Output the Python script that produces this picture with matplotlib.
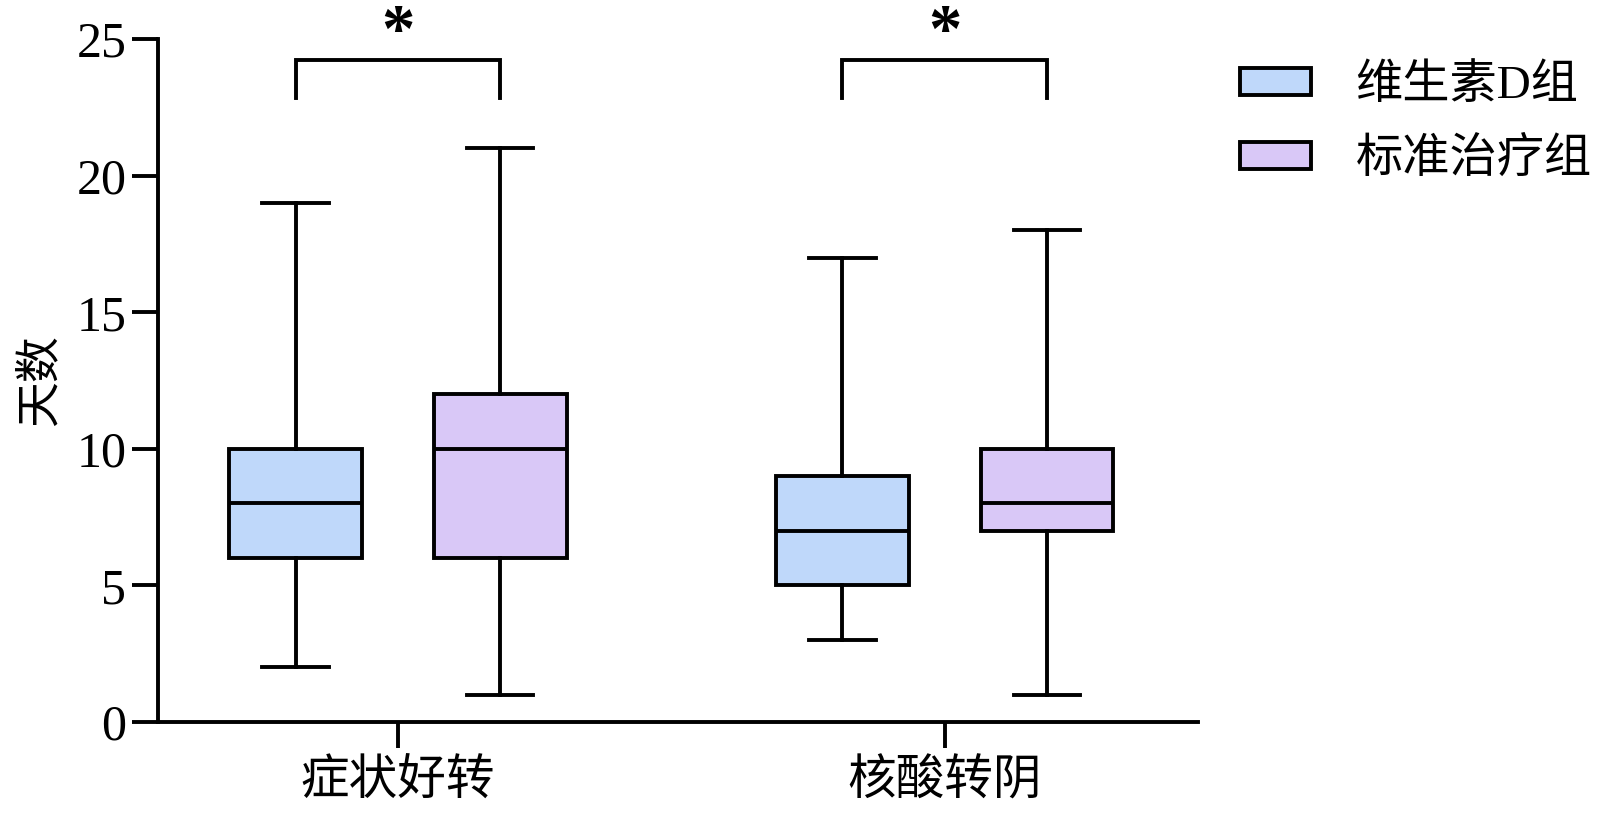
import numpy as np
import matplotlib.pyplot as plt
from matplotlib.patches import Patch

plt.rcParams['font.family'] = ['Liberation Serif', 'Noto Sans CJK SC']

categories = ["症状好转", "核酸转阴"]
groups = ["维生素D组", "标准治疗组"]
colors = ["#BFD8FA", "#D9C8F7"]

# whislo, q1, median, q3, whishi per group, per category
vitd_stats = [[2, 6, 8, 10, 19], [3, 5, 7, 9, 17]]
std_stats = [[1, 6, 10, 12, 21], [1, 7, 8, 10, 18]]
sig_marks = ["*", "*"]

offset = 0.187
box_w = 0.243

fig = plt.figure(figsize=(16, 8.14), dpi=100)
ax = fig.add_axes([0.099, 0.113, 0.65, 0.839])

lw = 2.8
for gi, (series, col) in enumerate(zip([vitd_stats, std_stats], colors)):
    stats = []
    for s in series:
        stats.append(dict(whislo=s[0], q1=s[1], med=s[2], q3=s[3], whishi=s[4], fliers=[]))
    pos = np.arange(len(categories)) + (-offset if gi == 0 else offset)
    ax.bxp(stats, positions=pos, widths=box_w, patch_artist=True, showfliers=False,
           boxprops=dict(facecolor=col, edgecolor="black", linewidth=lw),
           medianprops=dict(color="black", linewidth=lw),
           whiskerprops=dict(color="black", linewidth=lw),
           capprops=dict(color="black", linewidth=lw),
           capwidths=box_w / 2, manage_ticks=False)

# significance brackets
for i, m in enumerate(sig_marks):
    x1, x2 = i - offset, i + offset
    ax.plot([x1, x1, x2, x2], [22.85, 24.25, 24.25, 22.85], color="black", lw=lw,
            clip_on=False, solid_joinstyle="miter")
    ax.text(i, 24.1, m, ha="center", va="bottom", fontsize=48, fontweight="bold",
            clip_on=False)

ax.set_xlim(-0.438, 1.464)
ax.set_ylim(0, 25)
ax.set_yticks([0, 5, 10, 15, 20, 25])
ax.set_xticks(range(len(categories)))
ax.set_xticklabels(categories, fontsize=35)
ax.tick_params(axis="y", labelsize=36, length=19, width=lw, pad=4)
ax.tick_params(axis="x", length=19, width=lw, pad=8)
ax.spines["top"].set_visible(False)
ax.spines["right"].set_visible(False)
ax.spines["left"].set_linewidth(lw)
ax.spines["bottom"].set_linewidth(lw)
ax.set_ylabel("天数", fontsize=33, labelpad=10)

handles = [Patch(facecolor=c, edgecolor="black", linewidth=lw) for c in colors]
ax.legend(handles, groups, loc="upper left", bbox_to_anchor=(0.999, 1.025), frameon=False,
          fontsize=34, handlelength=1.5, handleheight=0.5, labelspacing=0.62,
          handletextpad=0.95)

fig.savefig("out.png", dpi=100)
